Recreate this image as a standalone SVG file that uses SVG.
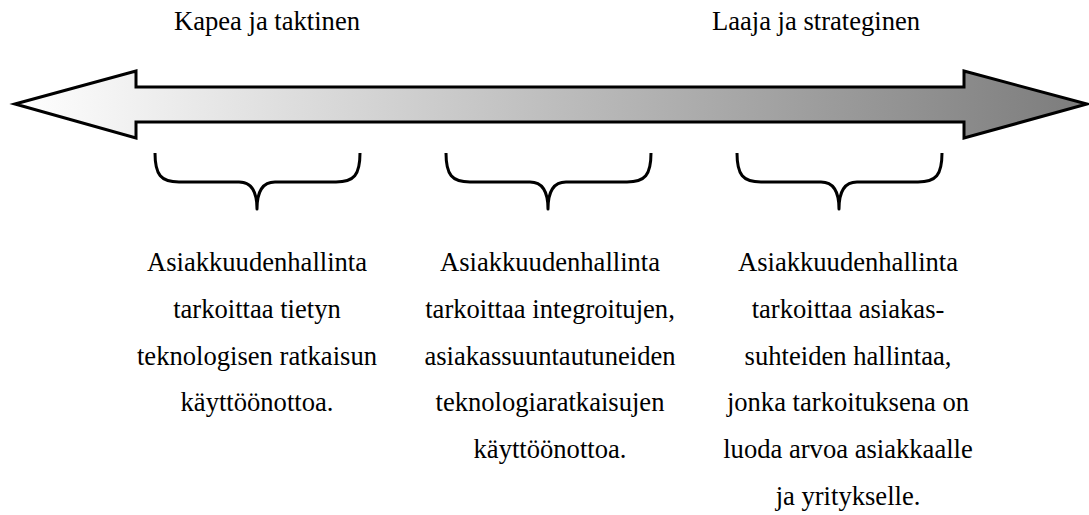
<svg xmlns="http://www.w3.org/2000/svg" width="1089" height="515" viewBox="0 0 1089 515">
  <style>
    .label { font-family: "Liberation Serif", "Times New Roman", serif; font-size: 26.6px; fill: #000; text-anchor: middle; }
    .brace { fill: none; stroke: #000; stroke-width: 3; stroke-linejoin: round; }
  </style>
  <defs>
    <linearGradient id="shade" x1="15" y1="0" x2="1087" y2="0" gradientUnits="userSpaceOnUse">
      <stop offset="0" stop-color="#ffffff"/>
      <stop offset="1" stop-color="#7c7c7c"/>
    </linearGradient>
    <!-- curly brace opening upward, 205 wide, point at the bottom centre -->
    <path id="brace-shape" d="M0,0 C0,22 6,29 24,29 L84,29 C96,29 102,38 102,56 C102,38 108,29 120,29 L181,29 C199,29 205,22 205,0"/>
  </defs>

  <rect width="1089" height="515" fill="#ffffff"/>

  <!-- end labels of the scale -->
  <g id="scale-labels">
    <text class="label" x="267" y="30">Kapea ja taktinen</text>
    <text class="label" x="816" y="30">Laaja ja strateginen</text>
  </g>

  <!-- double-headed shaded arrow -->
  <g id="scale-arrow">
    <polygon points="15,104 136,71 136,87 964,87 964,71 1087,104 964,138 964,122 136,122 136,138"
             fill="url(#shade)" stroke="#000" stroke-width="3" stroke-linejoin="miter"/>
  </g>

  <!-- braces grouping each definition -->
  <g id="connectors">
    <use href="#brace-shape" class="brace" transform="translate(155,153)"/>
    <use href="#brace-shape" class="brace" transform="translate(446,153)"/>
    <use href="#brace-shape" class="brace" transform="translate(737,153)"/>
  </g>

  <g id="definition-narrow">
    <text class="label" x="257" y="271">Asiakkuudenhallinta</text>
    <text class="label" x="257" y="318">tarkoittaa tietyn</text>
    <text class="label" x="257" y="365">teknologisen ratkaisun</text>
    <text class="label" x="257" y="411">käyttöönottoa.</text>
  </g>

  <g id="definition-middle">
    <text class="label" x="550" y="271">Asiakkuudenhallinta</text>
    <text class="label" x="550" y="318">tarkoittaa integroitujen,</text>
    <text class="label" x="550" y="365">asiakassuuntautuneiden</text>
    <text class="label" x="550" y="411">teknologiaratkaisujen</text>
    <text class="label" x="550" y="458">käyttöönottoa.</text>
  </g>

  <g id="definition-broad">
    <text class="label" x="848" y="271">Asiakkuudenhallinta</text>
    <text class="label" x="848" y="318">tarkoittaa asiakas-</text>
    <text class="label" x="848" y="365">suhteiden hallintaa,</text>
    <text class="label" x="848" y="411">jonka tarkoituksena on</text>
    <text class="label" x="848" y="458">luoda arvoa asiakkaalle</text>
    <text class="label" x="848" y="505">ja yritykselle.</text>
  </g>
</svg>
